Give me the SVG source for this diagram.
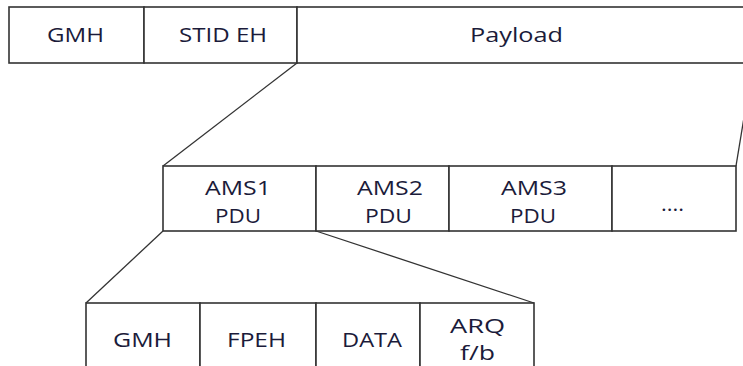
<svg xmlns="http://www.w3.org/2000/svg" width="743" height="366" viewBox="0 0 743 366">
<style>
.box{fill:#fff;stroke:#333;stroke-width:1.6}
.conn{stroke:#333;stroke-width:1.3;fill:none}
text{font-family:"Open Sans","DejaVu Sans",sans-serif;font-size:20px;fill:#1b1b3a;text-anchor:middle}
</style>
<rect width="743" height="366" fill="#fff"/>
<g id="connectors">
<line class="conn" x1="297" y1="63" x2="163" y2="166"/>
<line class="conn" x1="753" y1="63" x2="736" y2="166"/>
<line class="conn" x1="163" y1="231" x2="86" y2="303"/>
<line class="conn" x1="316" y1="231" x2="534" y2="303"/>
</g>
<g id="top-gmh"><rect class="box" x="9" y="7" width="135" height="56"/><text x="75.5" y="42" textLength="57" lengthAdjust="spacingAndGlyphs">GMH</text></g>
<g id="top-stid"><rect class="box" x="144" y="7" width="153" height="56"/><text x="223" y="42" textLength="88" lengthAdjust="spacingAndGlyphs">STID EH</text></g>
<g id="top-payload"><rect class="box" x="297" y="7" width="470" height="56"/><text x="516.5" y="42" textLength="93" lengthAdjust="spacingAndGlyphs">Payload</text></g>
<g id="ams1"><rect class="box" x="163" y="166" width="153" height="65"/><text x="238" y="195" textLength="66" lengthAdjust="spacingAndGlyphs">AMS1</text><text x="238" y="223" textLength="46" lengthAdjust="spacingAndGlyphs">PDU</text></g>
<g id="ams2"><rect class="box" x="316" y="166" width="133" height="65"/><text x="390" y="195" textLength="66" lengthAdjust="spacingAndGlyphs">AMS2</text><text x="388.5" y="223" textLength="47" lengthAdjust="spacingAndGlyphs">PDU</text></g>
<g id="ams3"><rect class="box" x="449" y="166" width="163" height="65"/><text x="534" y="195" textLength="66" lengthAdjust="spacingAndGlyphs">AMS3</text><text x="533" y="223" textLength="46" lengthAdjust="spacingAndGlyphs">PDU</text></g>
<g id="more"><rect class="box" x="612" y="166" width="124" height="65"/><text x="672.5" y="211" textLength="23" lengthAdjust="spacingAndGlyphs">....</text></g>
<g id="bot-gmh"><rect class="box" x="86" y="303" width="114" height="80"/><text x="142.5" y="347" textLength="59" lengthAdjust="spacingAndGlyphs">GMH</text></g>
<g id="bot-fpeh"><rect class="box" x="200" y="303" width="116" height="80"/><text x="256.5" y="347" textLength="59" lengthAdjust="spacingAndGlyphs">FPEH</text></g>
<g id="bot-data"><rect class="box" x="316" y="303" width="104" height="80"/><text x="372" y="347" textLength="60" lengthAdjust="spacingAndGlyphs">DATA</text></g>
<g id="bot-arq"><rect class="box" x="420" y="303" width="114" height="80"/><text x="477.5" y="333" textLength="55" lengthAdjust="spacingAndGlyphs">ARQ</text><text x="477.5" y="360" textLength="35" lengthAdjust="spacingAndGlyphs">f/b</text></g>
</svg>
